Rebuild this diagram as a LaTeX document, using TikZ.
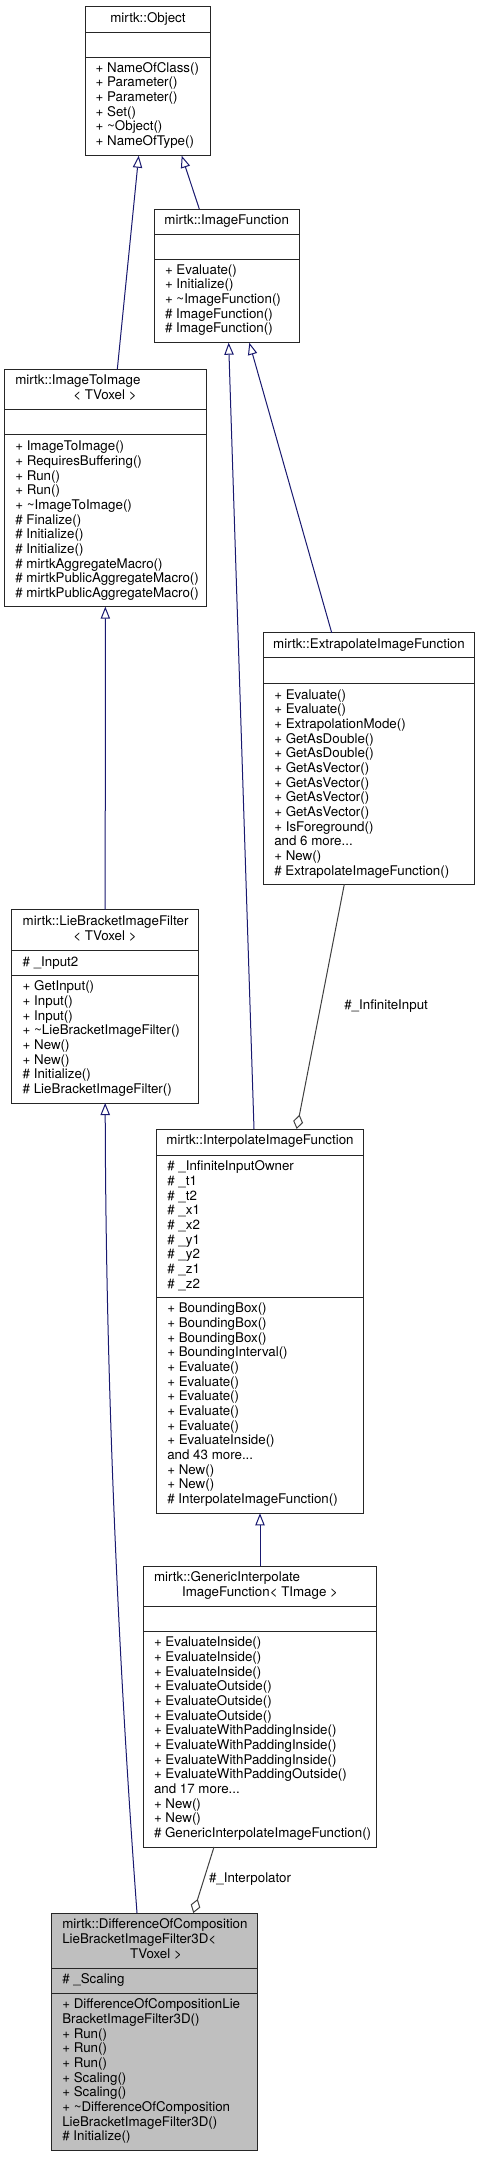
\documentclass[tikz,border=0pt]{standalone}
\usepackage{fontspec}
\setmainfont{TeX Gyre Heros}
\usetikzlibrary{arrows.meta,calc}
\definecolor{midnightblue}{HTML}{191970}
\definecolor{edgegrey}{HTML}{404040}
\definecolor{grey75}{HTML}{BFBFBF}
\newcommand{\umlbox}[6]{\node[cbox,fill=#6,minimum width={(#4-#2)*0.75pt},minimum height={(#5-#3)*0.75pt}] (#1) at (#2,#3) {};}
\newcommand{\mlines}[1]{\vtop{\let\\\cr\halign{##\hfil\cr#1\crcr}}}
\begin{document}
\begin{tikzpicture}[x=0.75pt,y=-0.75pt,
 cbox/.style={draw=black!85,line width=0.75pt,anchor=north west,inner sep=0pt,outer sep=0pt},
 txt/.style={inner sep=0pt,outer sep=0pt,anchor=base west,font=\fontsize{10}{11}\selectfont},
 ttl/.style={inner sep=0pt,outer sep=0pt,anchor=base,font=\fontsize{10}{11}\selectfont},
 lbl/.style={inner sep=0pt,outer sep=0pt,anchor=base west,font=\fontsize{10}{11}\selectfont},
 inh/.style={draw=midnightblue,line width=0.75pt,{Triangle[open,length=9pt,width=7pt,fill=white]}-},
 use/.style={draw=edgegrey,line width=0.75pt,{Diamond[open,length=11pt,width=7.5pt,fill=white]}-}]
\useasboundingbox (0,0) rectangle (479,2157);
\fill[white] (0,0) rectangle (479,2157);

% ---- boxes
\umlbox{objT}{85.3}{6.3}{210.7}{32}{white}
\umlbox{objA}{85.3}{32}{210.7}{57.3}{white}
\umlbox{objM}{85.3}{57.3}{210.7}{155.7}{white}

\umlbox{ifT}{154}{209}{299.3}{234}{white}
\umlbox{ifA}{154}{234}{299.3}{259.3}{white}
\umlbox{ifM}{154}{259.3}{299.3}{342.7}{white}

\umlbox{i2iT}{4.7}{369.3}{206}{409.3}{white}
\umlbox{i2iA}{4.7}{409.3}{206}{434.7}{white}
\umlbox{i2iM}{4.7}{434.7}{206}{606.7}{white}

\umlbox{exT}{263.7}{632.7}{474.3}{657.7}{white}
\umlbox{exA}{263.7}{657.7}{474.3}{683}{white}
\umlbox{exM}{263.7}{683}{474.3}{884.3}{white}

\umlbox{lbT}{11.7}{909.7}{198.7}{950}{white}
\umlbox{lbA}{11.7}{950}{198.7}{975.3}{white}
\umlbox{lbM}{11.7}{975.3}{198.7}{1103}{white}

\umlbox{ipT}{156.7}{1129}{363.3}{1155}{white}
\umlbox{ipA}{156.7}{1155}{363.3}{1297}{white}
\umlbox{ipM}{156.7}{1297}{363.3}{1513.3}{white}

\umlbox{gnT}{143.3}{1566}{376.7}{1606}{white}
\umlbox{gnA}{143.3}{1606}{376.7}{1631}{white}
\umlbox{gnM}{143.3}{1631}{376.7}{1847}{white}

\umlbox{dfT}{51}{1913}{257.7}{1968}{grey75}
\umlbox{dfA}{51}{1968}{257.7}{1993}{grey75}
\umlbox{dfM}{51}{1993}{257.7}{2150.3}{grey75}

% ---- texts
\node[ttl] (objN) at (148,22.3) {mirtk::Object};
\node[txt] (objL) at (95.7,72.3) {\mlines{+ NameOfClass()\\+ Parameter()\\+ Parameter()\\+ Set()\\+ \textasciitilde Object()\\+ NameOfType()}};

\node[ttl] (ifN) at (226.7,224.3) {mirtk::ImageFunction};
\node[txt] (ifL) at (165,274.3) {\mlines{+ Evaluate()\\+ Initialize()\\+ \textasciitilde ImageFunction()\\\# ImageFunction()\\\# ImageFunction()}};

\node[lbl] (i2iN1) at (15.3,384.7) {mirtk::ImageToImage};
\node[ttl] (i2iN2) at (105,399.7) {< TVoxel >};
\node[txt] (i2iL) at (15.3,450.7) {\mlines{+ ImageToImage()\\+ RequiresBuffering()\\+ Run()\\+ Run()\\+ \textasciitilde ImageToImage()\\\# Finalize()\\\# Initialize()\\\# Initialize()\\\# mirtkAggregateMacro()\\\# mirtkPublicAggregateMacro()\\\# mirtkPublicAggregateMacro()}};

\node[ttl] (exN) at (369,648.3) {mirtk::ExtrapolateImageFunction};
\node[txt] (exL) at (274.3,699) {\mlines{+ Evaluate()\\+ Evaluate()\\+ ExtrapolationMode()\\+ GetAsDouble()\\+ GetAsDouble()\\+ GetAsVector()\\+ GetAsVector()\\+ GetAsVector()\\+ GetAsVector()\\+ IsForeground()\\and 6 more...\\+ New()\\\# ExtrapolateImageFunction()}};

\node[lbl] (lbN1) at (22.7,925.7) {mirtk::LieBracketImageFilter};
\node[ttl] (lbN2) at (105,940.7) {< TVoxel >};
\node[txt] (lbAt) at (22.7,966) {\# \_Input2};
\node[txt] (lbL) at (22.7,990.7) {\mlines{+ GetInput()\\+ Input()\\+ Input()\\+ \textasciitilde LieBracketImageFilter()\\+ New()\\+ New()\\\# Initialize()\\\# LieBracketImageFilter()}};

\node[ttl] (ipN) at (260,1144.3) {mirtk::InterpolateImageFunction};
\node[txt] (ipAt) at (167.3,1170.7) {\mlines{\# \_InfiniteInputOwner\\\# \_t1\\\# \_t2\\\# \_x1\\\# \_x2\\\# \_y1\\\# \_y2\\\# \_z1\\\# \_z2}};
\node[txt] (ipL) at (167.3,1312.7) {\mlines{+ BoundingBox()\\+ BoundingBox()\\+ BoundingBox()\\+ BoundingInterval()\\+ Evaluate()\\+ Evaluate()\\+ Evaluate()\\+ Evaluate()\\+ Evaluate()\\+ EvaluateInside()\\and 43 more...\\+ New()\\+ New()\\\# InterpolateImageFunction()}};

\node[lbl] (gnN1) at (154,1581.7) {mirtk::GenericInterpolate};
\node[ttl] (gnN2) at (260,1596.7) {ImageFunction< TImage >};
\node[txt] (gnL) at (154,1646.7) {\mlines{+ EvaluateInside()\\+ EvaluateInside()\\+ EvaluateInside()\\+ EvaluateOutside()\\+ EvaluateOutside()\\+ EvaluateOutside()\\+ EvaluateWithPaddingInside()\\+ EvaluateWithPaddingInside()\\+ EvaluateWithPaddingInside()\\+ EvaluateWithPaddingOutside()\\and 17 more...\\+ New()\\+ New()\\\# GenericInterpolateImageFunction()}};

\node[lbl] (dfN1) at (62.3,1928.3) {mirtk::DifferenceOfComposition};
\node[lbl] (dfN2) at (62.3,1943.3) {LieBracketImageFilter3D<};
\node[ttl] (dfN3) at (156,1958.3) {TVoxel >};
\node[txt] (dfAt) at (62.3,1983.3) {\# \_Scaling};
\node[txt] (dfL) at (62.3,2008.7) {\mlines{+ DifferenceOfCompositionLie\\BracketImageFilter3D()\\+ Run()\\+ Run()\\+ Run()\\+ Scaling()\\+ Scaling()\\+ \textasciitilde DifferenceOfComposition\\LieBracketImageFilter3D()\\\# Initialize()}};

% ---- edges
\draw[inh] ($(objM.south)+(-9.3,0)$) -- ($(i2iT.north)+(11.95,0)$);
\draw[inh] ($(objM.south)+(33.7,0)$) -- ($(ifT.north)+(-27.35,0)$);
\draw[inh] ($(ifM.south)+(2,0)$) -- ($(ipT.north)+(-6,0)$);
\draw[inh] ($(ifM.south)+(22.65,0)$) -- ($(exT.north)+(-37.3,0)$);
\draw[inh] (i2iM.south) -- (lbT.north);
\draw[inh] (lbM.south) .. controls ($(lbM.south)+(0.8,347)$) and ($(dfT.north)+(-29.35,-163)$) .. ($(dfT.north)+(-17.35,0)$);
\draw[inh] (ipM.south) -- (gnT.north);
\draw[use] ($(ipT.north)+(36.7,0)$) -- ($(exM.south)+(-24.7,0)$);
\draw[use] ($(dfT.north)+(38.95,0)$) -- ($(gnM.south)+(-46,0)$);

\node[lbl] (lInf) at (344.3,1009.7) {\#\_InfiniteInput};
\node[lbl] (lInt) at (209,1882.3) {\#\_Interpolator};
\end{tikzpicture}
\end{document}
